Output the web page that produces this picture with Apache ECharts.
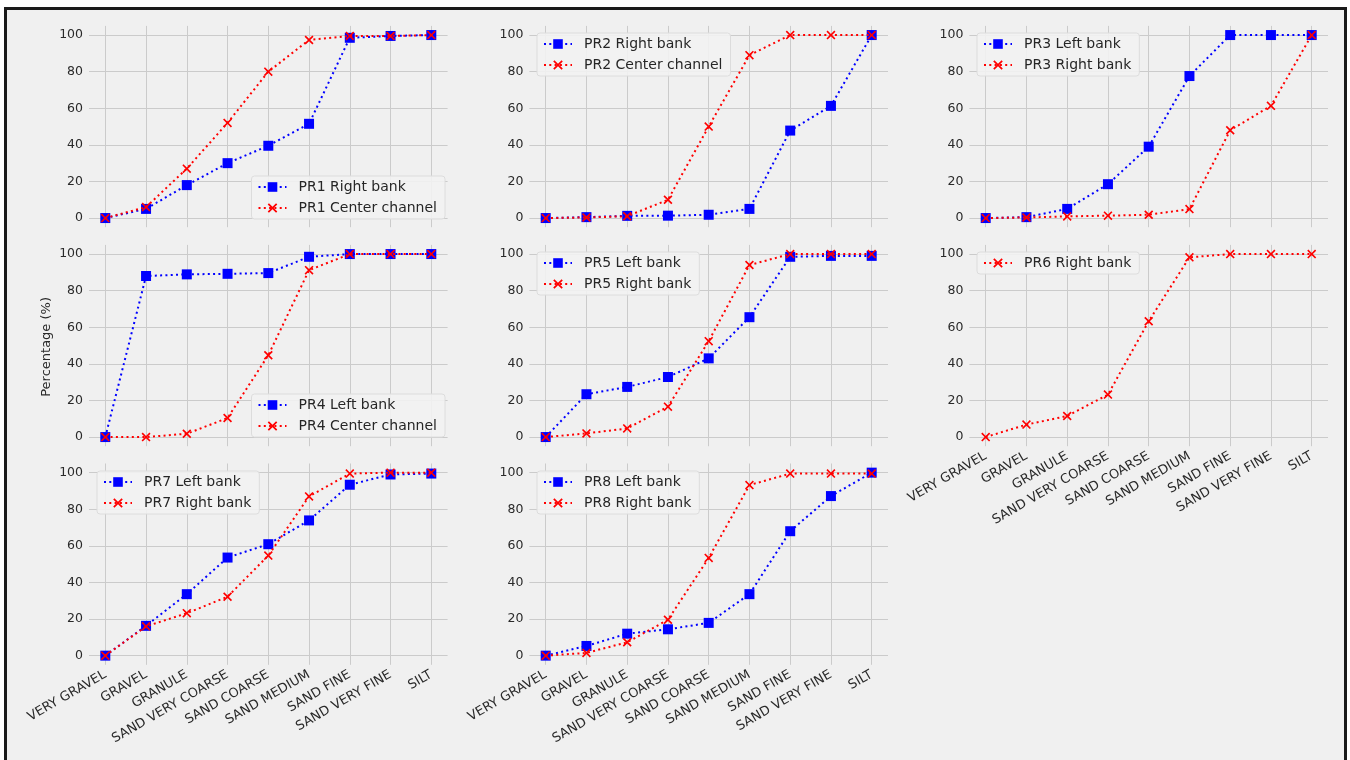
<!DOCTYPE html>
<html>
<head>
<meta charset="utf-8">
<script src="https://cdn.jsdelivr.net/npm/echarts@6/dist/echarts.min.js"></script>
<style>
  html, body { margin: 0; padding: 0; background: #fff; }
  #frame {
    position: absolute; left: 4px; top: 7px; width: 1337px; height: 760px;
    border: 3px solid #1a1a1a; border-bottom: none; background: #f0f0f0;
  }
  #chart { position: absolute; left: 0; top: 0; width: 1350px; height: 760px; }
</style>
</head>
<body>
<div id="frame"></div>
<div id="chart"></div>
<script>
// grain size classes (x axis)
const categories = ['VERY GRAVEL', 'GRAVEL', 'GRANULE', 'SAND VERY COARSE', 'SAND COARSE',
  'SAND MEDIUM', 'SAND FINE', 'SAND VERY FINE', 'SILT'];
const yTicks = [0, 20, 40, 60, 80, 100];

// cumulative percentages
const pr1Right = [0, 5, 18, 30, 39.5, 51.5, 98.5, 99.5, 100];
const pr1Center = [0, 6, 27, 52, 80, 97.3, 99.5, 99.5, 100];
const pr2Right = [0, 0.5, 1.2, 1.3, 1.8, 5, 47.8, 61.3, 100];
const pr2Center = [0, 0.3, 1, 10, 50, 89, 100, 100, 100];
const pr3Left = [0, 0.5, 5, 18.5, 39, 77.6, 100, 100, 100];
const pr3Right = [0, 0.3, 0.9, 1.3, 1.8, 4.9, 48, 61.3, 100];
const pr4Left = [0, 88, 88.9, 89.2, 89.6, 98.5, 100, 100, 100];
const pr4Center = [0, 0, 1.8, 10.4, 44.7, 91.2, 100, 100, 100];
const pr5Left = [0, 23.4, 27.4, 32.8, 43, 65.5, 98.5, 99, 99];
const pr5Right = [0, 2, 4.7, 16.6, 52.4, 94, 100, 100, 100];
const pr6Right = [0, 6.8, 11.5, 23.2, 63.3, 98.2, 100, 100, 100];
const pr7Left = [0, 16.3, 33.6, 53.6, 60.9, 73.9, 93.4, 99, 99.5];
const pr7Right = [0, 16, 23.2, 32.2, 54.7, 87, 99.5, 100, 100];
const pr8Left = [0, 5.3, 12, 14.4, 17.9, 33.6, 68, 87.2, 100];
const pr8Right = [0, 1.5, 7.3, 19.6, 53.4, 93.2, 99.5, 99.5, 99.5];

const BLUE = '#0000ff';
const RED = '#ff0000';
const CROSS = 'path://M0,1.3L1.3,0L5,3.7L8.7,0L10,1.3L6.3,5L10,8.7L8.7,10L5,6.3L1.3,10L0,8.7L3.7,5Z';
const FONT = 'DejaVu Sans';

// panel layout: [col, row], legend placement, series
const panels = [
  { cell: [0, 0], legend: { right: 905, top: 176 }, lines: [['PR1 Right bank', pr1Right, 'b'], ['PR1 Center channel', pr1Center, 'r']] },
  { cell: [1, 0], legend: { left: 537, top: 33 }, lines: [['PR2 Right bank', pr2Right, 'b'], ['PR2 Center channel', pr2Center, 'r']] },
  { cell: [2, 0], legend: { left: 977, top: 33 }, lines: [['PR3 Left bank', pr3Left, 'b'], ['PR3 Right bank', pr3Right, 'r']] },
  { cell: [0, 1], legend: { right: 905, top: 394 }, lines: [['PR4 Left bank', pr4Left, 'b'], ['PR4 Center channel', pr4Center, 'r']] },
  { cell: [1, 1], legend: { left: 537, top: 252 }, lines: [['PR5 Left bank', pr5Left, 'b'], ['PR5 Right bank', pr5Right, 'r']] },
  { cell: [2, 1], legend: { left: 977, top: 252 }, lines: [['PR6 Right bank', pr6Right, 'r']], xLabels: true },
  { cell: [0, 2], legend: { left: 97, top: 471 }, lines: [['PR7 Left bank', pr7Left, 'b'], ['PR7 Right bank', pr7Right, 'r']], xLabels: true },
  { cell: [1, 2], legend: { left: 537, top: 471 }, lines: [['PR8 Left bank', pr8Left, 'b'], ['PR8 Right bank', pr8Right, 'r']], xLabels: true }
];

const colLeft = [89, 529.4, 969.4];
const rowTop = [25.9, 244.9, 463.5];

const grids = [], xAxes = [], yAxes = [], legends = [], series = [];

panels.forEach((p, i) => {
  grids.push({
    left: colLeft[p.cell[0]], top: rowTop[p.cell[1]], width: 358.6, height: 201.3,
    show: false
  });
  xAxes.push({
    type: 'value', gridIndex: i, min: -0.4, max: 8.4,
    axisLine: { show: false },
    axisTick: { show: false, customValues: categories.map((_, k) => k) },
    splitLine: { show: true, lineStyle: { color: '#cbcbcb', width: 1 } },
    axisLabel: {
      show: !!p.xLabels,
      customValues: categories.map((_, k) => k),
      formatter: v => categories[Math.round(v)],
      rotate: 30, margin: 9, fontSize: 13, color: '#2a2a2a', fontFamily: FONT
    }
  });
  yAxes.push({
    type: 'value', gridIndex: i, min: -5, max: 105,
    axisLine: { show: false },
    axisTick: { show: false, customValues: yTicks },
    splitLine: { show: true, lineStyle: { color: '#cbcbcb', width: 1 } },
    axisLabel: { customValues: yTicks, margin: 6, fontSize: 12.5, color: '#2a2a2a', fontFamily: FONT }
  });
  legends.push(Object.assign({
    orient: 'vertical',
    data: p.lines.map(l => l[0]),
    itemWidth: 28, itemHeight: 12, itemGap: 7,
    padding: [4, 8, 4, 6],
    backgroundColor: 'rgba(242,242,242,0.9)',
    borderColor: '#dcdcdc', borderWidth: 1, borderRadius: 3,
    selectedMode: false,
    textStyle: { fontSize: 14, color: '#262626', fontFamily: FONT, padding: [0, 0, 0, 7] }
  }, p.legend));
  p.lines.forEach(([name, values, kind]) => {
    const isBlue = kind === 'b';
    series.push({
      name, type: 'line', xAxisIndex: i, yAxisIndex: i,
      data: values.map((v, k) => [k, v]),
      symbol: isBlue ? 'rect' : CROSS,
      symbolSize: isBlue ? 10 : 9,
      showAllSymbol: true,
      itemStyle: { color: isBlue ? BLUE : RED },
      lineStyle: { color: isBlue ? BLUE : RED, width: 2, type: [2, 3.3], cap: 'butt' },
      z: isBlue ? 2 : 3,
      animation: false
    });
  });
});

const chart = echarts.init(document.getElementById('chart'), null, { renderer: 'canvas' });
chart.setOption({
  backgroundColor: 'transparent',
  animation: false,
  grid: grids,
  xAxis: xAxes,
  yAxis: yAxes,
  legend: legends,
  series: series,
  graphic: [{
    type: 'text', left: 40, top: 297, rotation: Math.PI / 2,
    style: { text: 'Percentage (%)', fontSize: 13, fill: '#2a2a2a', fontFamily: FONT }
  }]
});
</script>
</body>
</html>
